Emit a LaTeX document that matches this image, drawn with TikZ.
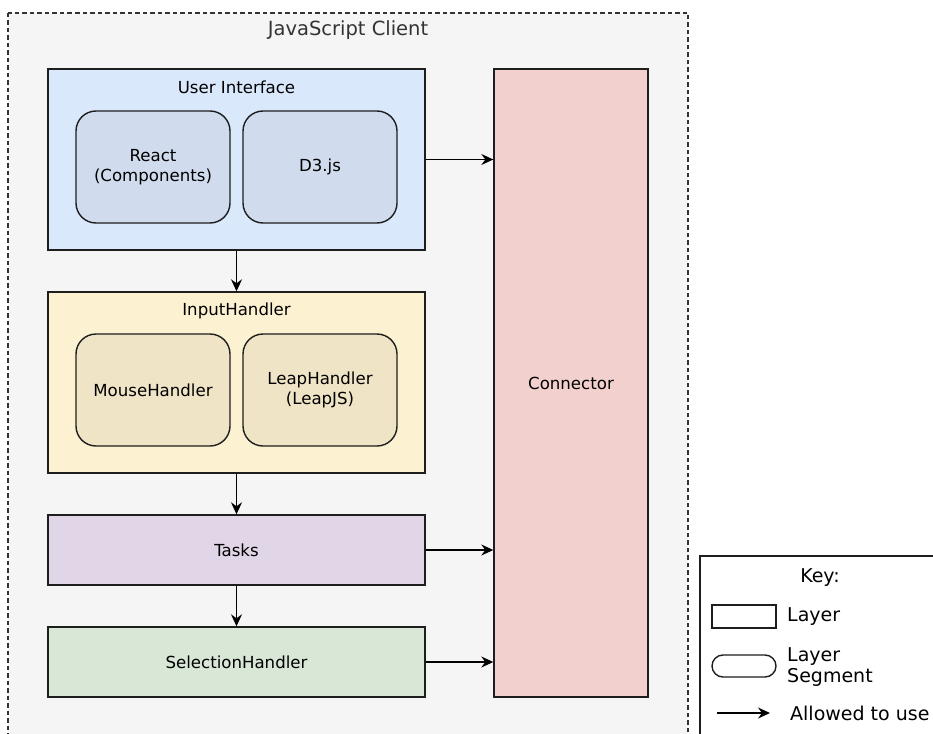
\documentclass[tikz,border=0pt]{standalone}
\usepackage{fontspec}
\setmainfont{DejaVu Sans}
\usetikzlibrary{arrows.meta}

\definecolor{clientbg}{HTML}{F5F5F5}
\definecolor{framegray}{HTML}{333333}
\definecolor{edgeblack}{HTML}{1E1E1E}
\definecolor{uifill}{HTML}{DAE8FC}
\definecolor{uiseg}{HTML}{D0DCEE}
\definecolor{infill}{HTML}{FCF1D1}
\definecolor{inseg}{HTML}{F0E4C6}
\definecolor{taskfill}{HTML}{E1D6E7}
\definecolor{selfill}{HTML}{D8E7D6}
\definecolor{connfill}{HTML}{F2D0CE}

\tikzset{
  layer/.style={draw=edgeblack, line width=1.4pt, rectangle, inner sep=0pt,
    minimum width=377pt, font=\fontsize{16.6}{20}\selectfont, text=black},
  seg/.style={draw=edgeblack, line width=1.4pt, rectangle, rounded corners=20pt,
    inner sep=0pt, minimum width=154pt, minimum height=112pt, align=center,
    font=\fontsize{16.6}{20}\selectfont},
  lbl/.style={inner sep=0pt, font=\fontsize{16.6}{20}\selectfont},
  arr/.style={-{Stealth[length=12pt,width=11pt,inset=4pt]}, line width=1.5pt, draw=black},
  keytxt/.style={inner sep=0pt, anchor=west, align=left,
    font=\fontsize{19}{21}\selectfont}
}

\begin{document}
\begin{tikzpicture}[x=1pt,y=-1pt]
  \useasboundingbox (0,0) rectangle (933,733);
  \clip (0,0) rectangle (933,733);
  \fill[white] (0,0) rectangle (933,733);

  % client container
  \draw[fill=clientbg, draw=framegray, line width=1.4pt, dash pattern=on 4.5pt off 3pt]
    (8,13) rectangle (688,760);
  \node[inner sep=0pt, text=framegray, font=\fontsize{19.5}{22}\selectfont]
    (title) at (348,30) {JavaScript Client};

  % User Interface layer
  \node[layer, fill=uifill, minimum height=181pt] (ui) at (236.5,159.5) {};
  \node[lbl] (uititle) at (236.5,87) {User Interface};
  \node[seg, fill=uiseg] (react) at (153,167) {React\\(Components)};
  \node[seg, fill=uiseg] (d3) at (320,167) {D3.js};

  % InputHandler layer
  \node[layer, fill=infill, minimum height=181pt] (input) at (236.5,382.5) {};
  \node[lbl] (intitle) at (236.5,311) {InputHandler};
  \node[seg, fill=inseg] (mouse) at (153,390) {MouseHandler};
  \node[seg, fill=inseg] (leap) at (320,390) {LeapHandler\\(LeapJS)};

  % Tasks and selection layers
  \node[layer, fill=taskfill, minimum height=70pt] (tasks) at (236.5,550) {Tasks};
  \node[layer, fill=selfill, minimum height=70pt] (sel) at (236.5,662) {SelectionHandler};

  % Connector layer
  \node[draw=edgeblack, line width=1.4pt, fill=connfill, inner sep=0pt,
    minimum width=154pt, minimum height=628pt,
    font=\fontsize{16.6}{20}\selectfont] (conn) at (571,383) {Connector};

  % usage arrows
  \draw[arr] (ui) -- (input);
  \draw[arr] (input) -- (tasks);
  \draw[arr] (tasks) -- (sel);
  \draw[arr] (ui.east) -- (ui.east -| conn.west);
  \draw[arr] (tasks.east) -- (tasks.east -| conn.west);
  \draw[arr] (sel.east) -- (sel.east -| conn.west);

  % key
  \draw[fill=white, draw=edgeblack, line width=1.4pt] (700,556) rectangle (960,760);
  \node[inner sep=0pt, font=\fontsize{19}{21}\selectfont] (keyhead) at (820,578) {Key:};
  \node[draw=edgeblack, line width=1.4pt, inner sep=0pt, minimum width=64pt,
    minimum height=23pt] (keylayer) at (744,616.5) {};
  \node[keytxt] (keylayertxt) at (787,617) {Layer};
  \node[draw=edgeblack, line width=1.4pt, inner sep=0pt, minimum width=64pt,
    minimum height=22pt, rounded corners=11pt] (keyseg) at (744,666) {};
  \node[keytxt] (keysegtxt) at (787,667) {Layer\\Segment};
  \coordinate (keyarrA) at (717,713);
  \coordinate (keyarrB) at (770,713);
  \draw[arr] (keyarrA) -- (keyarrB);
  \node[keytxt] (keyarrtxt) at (790,713) {Allowed to use};
\end{tikzpicture}
\end{document}
